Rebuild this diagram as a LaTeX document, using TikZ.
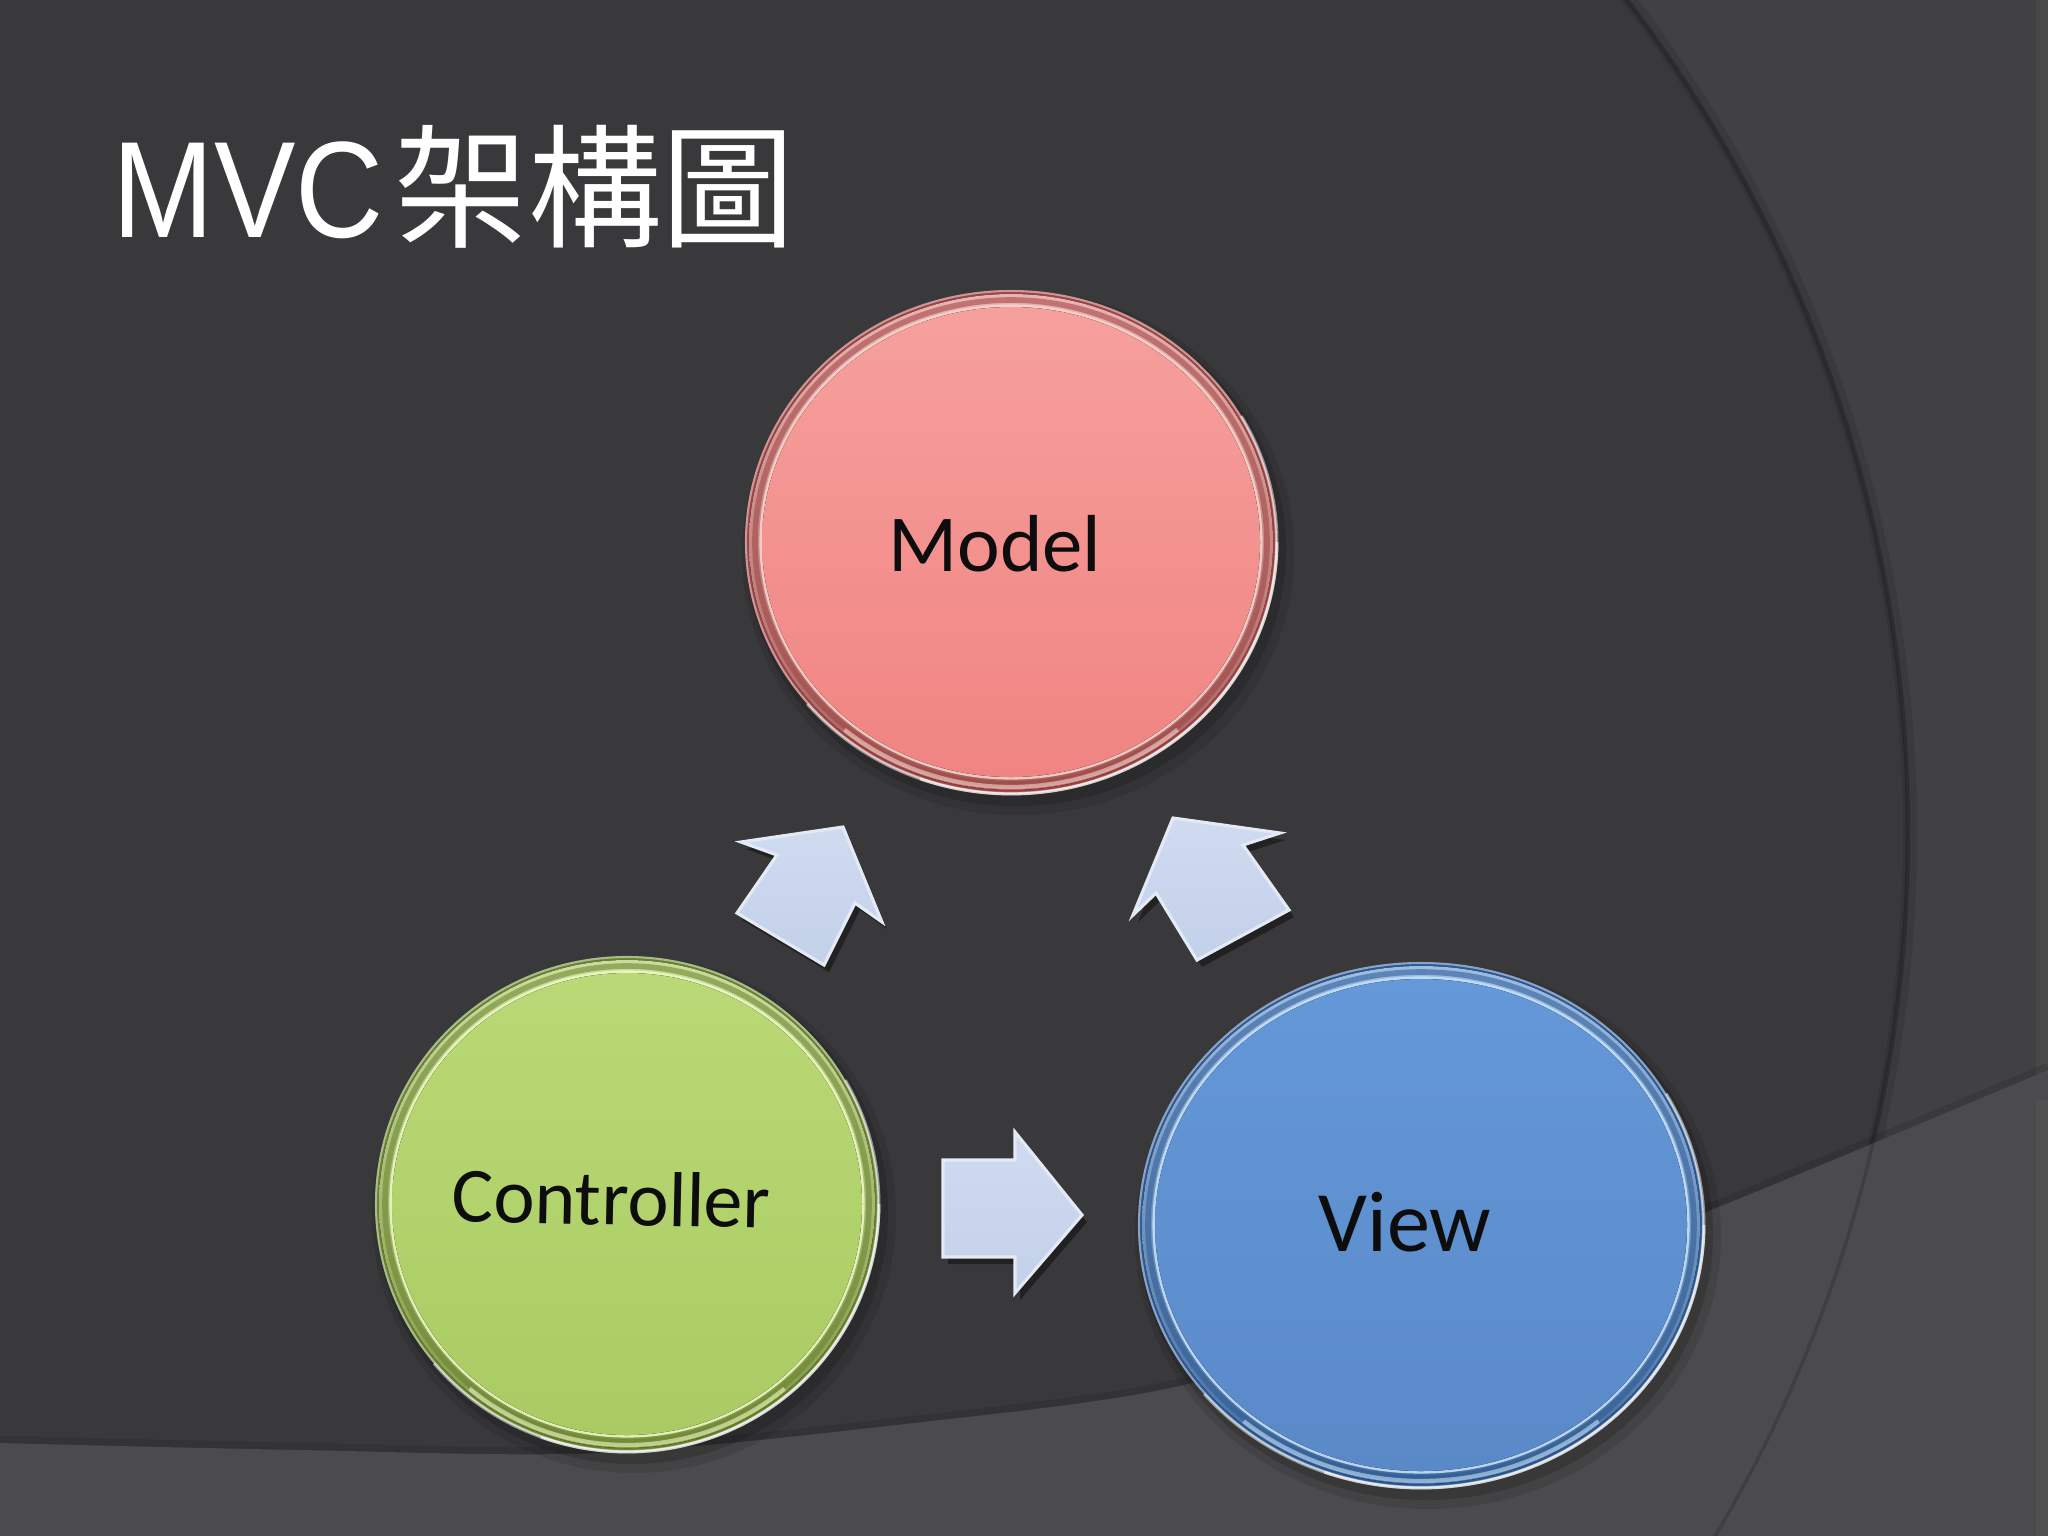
\documentclass[tikz,border=0pt]{standalone}
\usepackage{fontspec}
\newfontfamily\titlelat[FakeStretch=0.89]{Liberation Sans}
\newfontfamily\titlecjk{Noto Sans CJK TC}
\newfontfamily\bodyfont{Carlito}
\usetikzlibrary{shapes.geometric}
\definecolor{bgmain}{HTML}{39383A}
\definecolor{bgout}{HTML}{414042}
\definecolor{bgband}{HTML}{4B4A4C}
\definecolor{arrowtop}{HTML}{D0DBF0}
\definecolor{arrowbot}{HTML}{C2D0E9}
\definecolor{arrowedge}{HTML}{E4EAF5}
% model
\definecolor{mrim}{HTML}{D9817D}
\definecolor{medge}{HTML}{A04040}
\definecolor{mtop}{HTML}{F6A09D}
\definecolor{mbot}{HTML}{F08482}
\definecolor{mhl}{HTML}{FAD2CC}
% controller
\definecolor{crim}{HTML}{A9C65E}
\definecolor{cedge}{HTML}{67822A}
\definecolor{ctop}{HTML}{BAD976}
\definecolor{cbot}{HTML}{AACB63}
\definecolor{chl}{HTML}{EEF8C2}
% view
\definecolor{vrim}{HTML}{5A90D0}
\definecolor{vedge}{HTML}{2B5894}
\definecolor{vtop}{HTML}{6498D8}
\definecolor{vbot}{HTML}{5A89C8}
\definecolor{vhl}{HTML}{C4E0FA}
\tikzset{
  lbl/.style={inner sep=0pt, text=black!95, anchor=base},
  blockarrow/.style={top color=arrowtop, bottom color=arrowbot, draw=arrowedge, line width=0.9pt, line join=miter},
  arrowshadow/.style={fill=black, opacity=0.4},
}
\newcommand\mvcdisc[9]{%
  \fill[black,opacity=0.10] ({#1+7},{#2+11}) ellipse [x radius={#3+10}, y radius={#4+10}];
  \fill[black,opacity=0.15] ({#1+5},{#2+8}) ellipse [x radius={#3+4}, y radius={#4+4}];
  \fill[#6] (#1,#2) ellipse [x radius=#3, y radius=#4];
  \draw[white, opacity=0.45, line width=0.6pt] (#1,#2) ellipse [x radius={#3-1}, y radius={#4-1}];
  \fill[top color=#5!60!white, bottom color=#5!75!black] (#1,#2) ellipse [x radius={#3-4}, y radius={#4-4}];
  \draw[#6, opacity=0.55, line width=1.6pt] (#1,#2) ellipse [x radius={#3-10}, y radius={#4-10}];
  \draw[#9, opacity=0.9, line width=0.9pt] (#1,#2) ellipse [x radius={#3-16}, y radius={#4-16}];
  \fill[top color=#7, bottom color=#8] (#1,#2) ellipse [x radius={#3-17}, y radius={#4-17}];
  \draw[white, opacity=0.5, line width=0.8pt] ({#1+#3*cos(-30)},{#2+#4*sin(-30)}) arc [start angle=-30, end angle=140, x radius=#3, y radius=#4];
  \draw[white, opacity=0.6, line width=0.8pt] ({#1+#3*cos(0)},{#2+#4*sin(0)}) arc [start angle=0, end angle=110, x radius=#3, y radius=#4];
  \draw[#9, opacity=0.6, line width=1.2pt] ({#1+(#3-7)*cos(50)},{#2+(#4-7)*sin(50)}) arc [start angle=50, end angle=130, x radius={#3-7}, y radius={#4-7}];
}
\begin{document}
\begin{tikzpicture}[x=0.01cm, y=-0.01cm]
\useasboundingbox (0,0) rectangle (2048,1536);
% background
\fill[bgout] (0,0) rectangle (2048,1536);
\fill[bgout!96!white] (2036,0) rectangle (2048,1536);
\begin{scope}
  \clip (0,0) rectangle (2048,1536);
  \fill[bgmain] (532,833) circle [radius=1375];
  \draw[black, opacity=0.10, line width=4pt] (532,833) circle [radius=1378];
  \draw[black, opacity=0.22, line width=1.2pt] (532,833) circle [radius=1376];
\end{scope}
\def\bandpath{(0,1536) -- plot[smooth] coordinates {(0,1443) (300,1450) (600,1453) (914,1423) (1175,1387) (1450,1306) (1706,1212) (2048,1070)} -- (2048,1536) -- cycle}
\draw[black, opacity=0.10, line width=3pt] plot[smooth] coordinates {(0,1441) (300,1448) (600,1451) (914,1421) (1175,1385) (1450,1304) (1706,1210) (2048,1068)};
\fill[bgband] \bandpath;
\begin{scope}
  \clip \bandpath;
  \draw[black, opacity=0.15, line width=1pt] (532,833) circle [radius=1376];
\end{scope}
\fill[bgband!97!white] (2036,1100) rectangle (2048,1536);
% title
\node[inner sep=0pt, anchor=base west, text=white] (title) at (112,237)
  {\fontsize{39}{46}\titlelat MVC\hspace{3pt}{\fontsize{38}{46}\titlecjk 架構圖}};
% discs
\mvcdisc{1011}{542}{266}{252}{mrim}{medge}{mtop}{mbot}{mhl}
\mvcdisc{627}{1204}{252}{248}{crim}{cedge}{ctop}{cbot}{chl}
\mvcdisc{1421}{1225}{283}{263}{vrim}{vedge}{vtop}{vbot}{vhl}
% labels
\node[lbl, font=\bodyfont\fontsize{23}{28}\selectfont] (model) at (995,571) {Model};
\node[lbl, font=\bodyfont\fontsize{22.2}{27}\selectfont, rotate=-1.2] (ctrl) at (611,1225) {Controller};
\node[lbl, font=\bodyfont\fontsize{24.5}{29}\selectfont] (view) at (1405,1251) {View};
% block arrows
\begin{scope}[shift={(5,7)}]
  \fill[arrowshadow] (737,913) -- (777,855) -- (741,842) -- (843,827) -- (882,922) -- (855,903) -- (824,965) -- cycle;
  \fill[arrowshadow] (1197,960) -- (1156,893) -- (1133,915) -- (1173,818) -- (1280,833) -- (1243,845) -- (1289,910) -- cycle;
  \fill[arrowshadow] (943,1160) -- (1015,1160) -- (1015,1132) -- (1082,1215) -- (1015,1293) -- (1015,1257) -- (943,1257) -- cycle;
\end{scope}
\draw[blockarrow] (737,913) -- (777,855) -- (741,842) -- (843,827) -- (882,922) -- (855,903) -- (824,965) -- cycle;
\draw[blockarrow] (1197,960) -- (1156,893) -- (1133,915) -- (1173,818) -- (1280,833) -- (1243,845) -- (1289,910) -- cycle;
\draw[blockarrow] (943,1160) -- (1015,1160) -- (1015,1132) -- (1082,1215) -- (1015,1293) -- (1015,1257) -- (943,1257) -- cycle;
\end{tikzpicture}
\end{document}
